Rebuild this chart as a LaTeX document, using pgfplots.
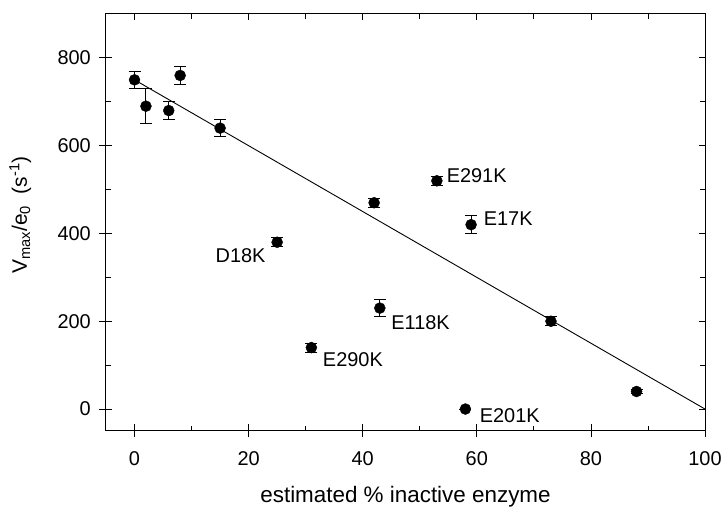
\documentclass[border=0pt]{standalone}
\usepackage{pgfplots}
\pgfplotsset{compat=1.18}
\usepackage{pgfplotstable}
\usepackage{fontspec}
\setmainfont{Liberation Sans}
\pgfplotstableread{
x y e
0 750 20
2 690 40
6 680 20
8 760 20
15 640 20
25 380 10
31 140 10
42 470 10
43 230 20
53 520 10
59 420 20
58 0 0
73 200 10
88 40 5
}\data
\newcommand\fa{\fontsize{20}{24}\selectfont}
\newcommand\fb{\fontsize{22.5}{27}\selectfont}
\pgfplotsset{common/.style={
  scale only axis,
  width=599bp, height=417bp,
  xmin=-5, xmax=100, ymin=-50, ymax=900,
  xtick={0,20,40,60,80,100},
  ytick={0,200,400,600,800},
  tick style={black, line width=0.8bp},
}}
\begin{document}
\begin{tikzpicture}
\begin{axis}[
  common,
  name=ax,
  minor x tick num=1, minor y tick num=1,
  tick align=inside,
  major tick length=6.5bp,
  minor tick length=5bp,
  axis line style={line width=1bp},
  /pgf/number format/assume math mode=true,
  ticklabel style={font=\fa},
  xticklabel style={anchor=base, inner sep=0pt},
  xticklabel shift=0pt,
  xticklabel style={yshift=-35bp},
  yticklabel style={anchor=east, inner sep=0pt},
  yticklabel shift=15bp,
  xlabel={estimated \% inactive enzyme},
  ylabel={V\textsubscript{max}/e\textsubscript{0}\ \ (s\textsuperscript{-1})},
  xlabel style={font=\fb, at={(axis description cs:0.5,0)}, anchor=base, yshift=-72bp, inner sep=0pt},
  ylabel style={font=\fontsize{21}{25}\selectfont, at={(axis description cs:-0.143,0.518)}, anchor=center, inner sep=0pt},
  clip=false,
]
\addplot[black, line width=0.9bp, no marks] coordinates {(0,750) (100,0)};
\addplot[black, only marks, mark=*, mark size=5.5bp,
  error bars/.cd, y dir=both, y explicit,
  error bar style={line width=0.9bp, black},
  error mark options={black, line width=0.9bp, mark size=6bp, rotate=90}]
  table[x=x, y=y, y error=e] {\data};
\node[anchor=west, inner sep=0, font=\fa] at (axis cs:54.7,531) {E291K};
\node[anchor=west, inner sep=0, font=\fa] at (axis cs:61.2,433) {E17K};
\node[anchor=west, inner sep=0, font=\fa] at (axis cs:45.0,197) {E118K};
\node[anchor=east, inner sep=0, font=\fa] at (axis cs:23.0,349) {D18K};
\node[anchor=west, inner sep=0, font=\fa] at (axis cs:33.0,112) {E290K};
\node[anchor=west, inner sep=0, font=\fa] at (axis cs:60.5,-14) {E201K};
\end{axis}
\begin{axis}[
  common,
  xtick pos=bottom, ytick pos=left,
  tick align=outside,
  major tick length=6.5bp,
  axis line style={draw=none},
  xticklabels={}, yticklabels={},
]
\addplot[draw=none, no marks] coordinates {(0,0)};
\end{axis}
\pgfresetboundingbox
\path ([shift={(-106bp,-77bp)}]ax.south west) rectangle ([shift={(17bp,14bp)}]ax.north east);
\end{tikzpicture}
\end{document}
